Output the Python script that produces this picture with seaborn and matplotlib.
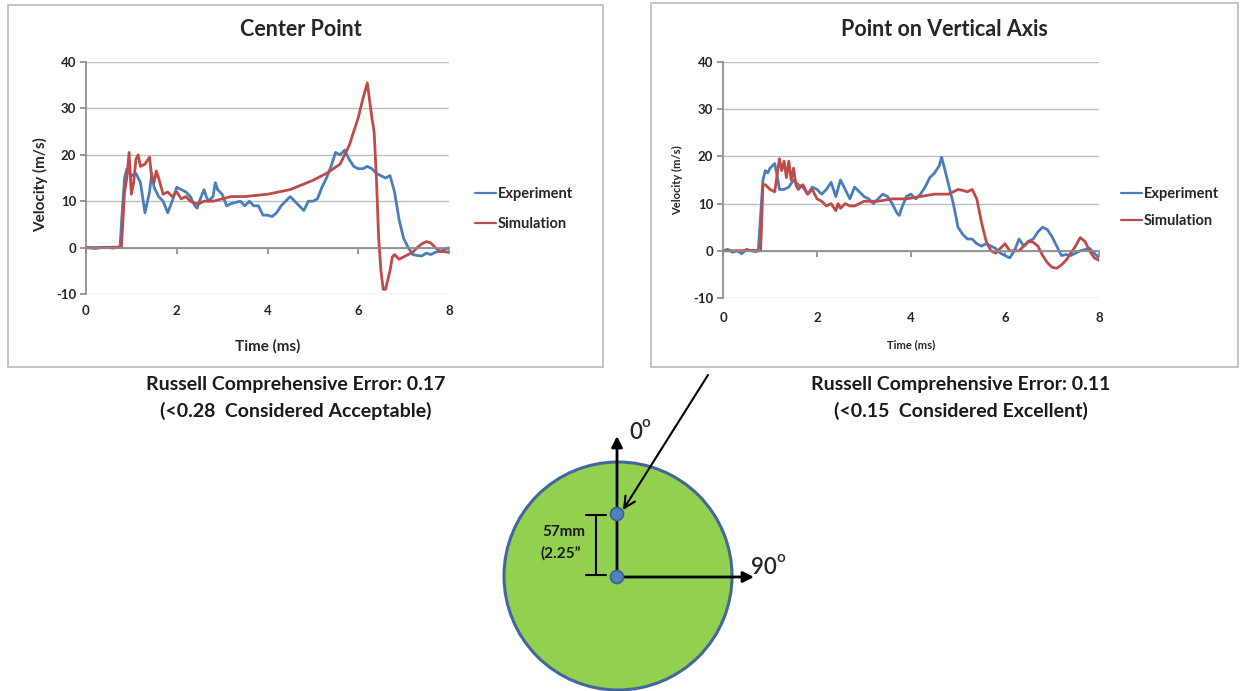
import matplotlib
matplotlib.use("Agg")
import matplotlib.pyplot as plt
from matplotlib.patches import Circle, Rectangle
import seaborn as sns
import pandas as pd

# ---------------- data ----------------
# Center Point - Experiment
cp_exp_t = [0, 0.2, 0.4, 0.6, 0.75, 0.8, 0.85, 0.9, 1.0, 1.1, 1.2, 1.3, 1.4, 1.45, 1.5, 1.6, 1.7, 1.8, 1.9,
            2.0, 2.1, 2.2, 2.3, 2.4, 2.45, 2.5, 2.6, 2.65, 2.7, 2.8, 2.85, 2.9, 3.0, 3.1, 3.2, 3.4, 3.5,
            3.6, 3.7, 3.8, 3.9, 4.0, 4.1, 4.2, 4.3, 4.5, 4.6, 4.8, 4.9, 5.0, 5.1, 5.2, 5.3, 5.4, 5.5,
            5.6, 5.7, 5.8, 5.9, 6.0, 6.1, 6.2, 6.3, 6.4, 6.5, 6.6, 6.7, 6.8, 6.9, 7.0, 7.1, 7.2, 7.3,
            7.4, 7.5, 7.6, 7.7, 7.8, 8.0]
cp_exp_v = [0, -0.2, 0.1, -0.1, 0.2, 8, 15, 17, 15.5, 16, 14, 7.5, 12, 16, 13, 11, 10, 7.5, 10,
            13, 12.5, 12, 11, 9, 8.5, 10, 12.5, 11, 10, 11, 14, 12.5, 11.5, 9, 9.5, 10, 9,
            10, 9, 9, 7, 7, 6.7, 7.5, 9, 11, 10, 8, 10, 10, 10.5, 13, 15, 17.5, 20.5,
            20, 21, 19, 17.5, 17, 17, 17.5, 17, 16, 15.5, 15, 15.5, 12, 6, 2, 0, -1.5, -1.7,
            -1.8, -1.2, -1.5, -1, -0.8, 0]
# Center Point - Simulation
cp_sim_t = [0, 0.3, 0.6, 0.78, 0.85, 0.9, 0.95, 1.0, 1.05, 1.1, 1.15, 1.2, 1.3, 1.4, 1.45, 1.5, 1.55,
            1.6, 1.7, 1.8, 1.9, 2.0, 2.1, 2.2, 2.3, 2.4, 2.5, 2.6, 2.8, 3.0, 3.2, 3.5, 4.0, 4.5,
            5.0, 5.3, 5.6, 5.8, 6.0, 6.1, 6.2, 6.3, 6.35, 6.4, 6.45, 6.5, 6.55, 6.6, 6.7, 6.75,
            6.8, 6.85, 6.9, 7.0, 7.1, 7.2, 7.3, 7.4, 7.5, 7.6, 7.7, 7.8, 8.0]
cp_sim_v = [0, 0, 0.1, 0, 12, 15, 20.5, 11.5, 14, 19, 20, 17.5, 18, 19.5, 15, 14, 16.5,
            15, 11.5, 12, 11, 12, 10.5, 11, 10, 9.5, 9.5, 10, 10, 10.5, 11, 11, 11.5, 12.5,
            14.5, 16, 18, 22, 28, 32, 35.5, 28, 25, 15, 2, -5, -9, -9, -5, -2,
            -1.5, -2, -2.5, -2, -1.5, -1, 0, 0.8, 1.3, 1.0, 0, -0.8, -1]

# Point on Vertical Axis - Experiment
va_exp_t = [0, 0.1, 0.2, 0.3, 0.4, 0.5, 0.6, 0.7, 0.75, 0.85, 0.9, 0.95, 1.0, 1.1, 1.15, 1.2, 1.3,
            1.4, 1.5, 1.6, 1.7, 1.8, 1.9, 2.0, 2.1, 2.2, 2.3, 2.35, 2.4, 2.5, 2.6, 2.7, 2.8, 2.9,
            3.0, 3.1, 3.2, 3.3, 3.4, 3.5, 3.6, 3.7, 3.75, 3.8, 3.9, 4.0, 4.1, 4.2, 4.3, 4.4, 4.5,
            4.6, 4.65, 4.7, 4.8, 4.9, 5.0, 5.1, 5.2, 5.3, 5.4, 5.5, 5.6, 5.7, 5.8, 5.9, 6.0, 6.1,
            6.2, 6.3, 6.4, 6.5, 6.6, 6.7, 6.8, 6.9, 7.0, 7.1, 7.2, 7.3, 7.4, 7.5, 7.6, 7.8, 7.9, 8.0]
va_exp_v = [0, 0.3, -0.3, 0, -0.6, 0.3, 0, -0.2, 0, 15, 17, 16.5, 17.5, 18.5, 16, 13, 13,
            13.5, 15, 14, 13.5, 12, 13.5, 13, 12, 13, 14.5, 13, 11.5, 15, 13, 11, 13.5, 12.5,
            11.5, 11, 10, 11, 12, 11.5, 10, 8, 7.5, 9, 11.5, 12, 11, 12, 13.5, 15.5, 16.5,
            18, 19.8, 18, 14, 10, 5, 3.5, 2.5, 2.5, 1.5, 1, 1.5, 1, 0.5, -0.5, -1, -1.5,
            0, 2.5, 1, 2, 2.5, 4, 5, 4.5, 3, 1, -1, -0.8, -1, -0.5, 0, 0.5, -0.5, -1.5]
# Point on Vertical Axis - Simulation
va_sim_t = [0, 0.3, 0.6, 0.8, 0.85, 0.9, 1.0, 1.1, 1.15, 1.2, 1.25, 1.3, 1.35, 1.4, 1.45, 1.5, 1.55,
            1.6, 1.7, 1.8, 1.9, 2.0, 2.1, 2.2, 2.3, 2.4, 2.45, 2.5, 2.6, 2.7, 2.8, 3.0, 3.3, 3.6,
            3.9, 4.2, 4.5, 4.8, 5.0, 5.1, 5.2, 5.3, 5.4, 5.5, 5.6, 5.7, 5.8, 5.9, 6.0, 6.1, 6.2,
            6.3, 6.4, 6.5, 6.6, 6.7, 6.8, 6.9, 7.0, 7.1, 7.2, 7.3, 7.5, 7.6, 7.7, 7.8, 7.9, 8.0]
va_sim_v = [0, 0, 0.1, 0, 14, 14, 13, 12.5, 16, 19.5, 17, 19, 15.5, 19, 15, 17.5, 14,
            13, 14, 12, 13, 11, 10.5, 9.5, 10, 8.5, 10, 9, 10, 9.5, 9.5, 10.5, 10.5, 11,
            11, 11.5, 12, 12, 13, 12.8, 12.5, 13, 11, 6, 2, 0, -0.5, 0.5, 1.5, 0, 0,
            0, 1, 2, 1.8, 1, -1, -2.5, -3.5, -3.7, -3, -2, 1, 2.8, 2, 0, -1.5, -2]

y_ticks = [-10, 0, 10, 20, 30, 40]
x_ticks = [0, 2, 4, 6, 8]
series_names = ["Experiment", "Simulation"]
titles = ["Center Point", "Point on Vertical Axis"]
notes = [("Russell Comprehensive Error: 0.17", "(<0.28  Considered Acceptable)"),
         ("Russell Comprehensive Error: 0.11", "(<0.15  Considered Excellent)")]

BLUE = "#4A7EBB"
RED = "#BE4B48"
W, H = 1243, 691

sns.set_theme(style="white")
plt.rcParams["font.family"] = ["Lato", "DejaVu Sans"]
plt.rcParams["axes.unicode_minus"] = False

fig = plt.figure(figsize=(W / 100, H / 100), dpi=100)

# background axes in pixel coordinates
bg = fig.add_axes([0, 0, 1, 1], zorder=0)
bg.set_xlim(0, W)
bg.set_ylim(H, 0)
bg.axis("off")

bg.add_patch(Rectangle((8, 5), 595, 362, fill=False, ec="#BFBFBF", lw=1.3))
bg.add_patch(Rectangle((651, 3), 587, 364, fill=False, ec="#BFBFBF", lw=1.3))


def fpos(x0, x1, ytop, ybot):
    return [x0 / W, 1 - ybot / H, (x1 - x0) / W, (ybot - ytop) / H]


def make_chart(rect, exp_t, exp_v, sim_t, sim_v, title, title_xy, lab_size, pad_pts, leg_xy, leg_space):
    ax = fig.add_axes(rect, zorder=2)
    ax.patch.set_alpha(0)
    df = pd.concat([
        pd.DataFrame({"t": exp_t, "v": exp_v, "s": series_names[0]}),
        pd.DataFrame({"t": sim_t, "v": sim_v, "s": series_names[1]}),
    ])
    sns.lineplot(data=df, x="t", y="v", hue="s", palette=[BLUE, RED], ax=ax,
                 linewidth=2.0, sort=False, estimator=None, legend=True)
    ax.set_xlim(0, 8)
    ax.set_ylim(-10, 40)
    ax.set_yticks(y_ticks)
    ax.set_xticks(x_ticks)
    ax.yaxis.grid(True, color="#BFBFBF", lw=1.0)
    ax.xaxis.grid(False)
    for s in ["top", "right"]:
        ax.spines[s].set_visible(False)
    ax.spines["left"].set_color("#8C8C8C")
    ax.spines["bottom"].set_color("#8C8C8C")
    ax.spines["bottom"].set_position(("data", 0))
    ax.tick_params(axis="y", left=True, length=4, color="#8C8C8C", labelsize=9.5, pad=3)
    ax.tick_params(axis="x", bottom=True, length=4, color="#8C8C8C", labelsize=9.5, pad=pad_pts)
    for lab in ax.get_xticklabels() + ax.get_yticklabels():
        lab.set_fontweight("bold")
    ax.set_xlabel("Time (ms)", fontsize=lab_size, fontweight="bold", labelpad=4)
    ax.set_ylabel("Velocity (m/s)", fontsize=lab_size, fontweight="bold", labelpad=6)
    fig.text(title_xy[0] / W, 1 - title_xy[1] / H, title, ha="center", va="center",
             fontsize=15.5, fontweight="bold", zorder=5)
    handles, labels = ax.get_legend_handles_labels()
    for h in handles:
        h.set_linewidth(1.6)
    ax.legend(handles, labels, loc="center left", bbox_to_anchor=leg_xy,
              bbox_transform=fig.transFigure, frameon=False, handlelength=1.45,
              handletextpad=0.1, labelspacing=leg_space, borderaxespad=0, borderpad=0,
              prop={"size": 10.5, "weight": "bold", "family": ["Lato", "DejaVu Sans"]})
    return ax


ax1 = make_chart(fpos(86, 449, 62, 294), cp_exp_t, cp_exp_v, cp_sim_t, cp_sim_v,
                 titles[0], (301, 30), 11, 37, (475 / W, 1 - 209 / H), 1.15)
ax1.yaxis.set_label_coords(-0.105, 0.47)
ax1.xaxis.set_label_coords(0.5, -0.195)

ax2 = make_chart(fpos(723, 1099, 62, 298), va_exp_t, va_exp_v, va_sim_t, va_sim_v,
                 titles[1], (944, 30), 8, 40, (1121 / W, 1 - 207.5 / H), 0.9)
ax2.yaxis.set_label_coords(-0.105, 0.5)
ax2.xaxis.set_label_coords(0.5, -0.175)

# notes under charts
for cx, (l1, l2) in zip([296, 961], notes):
    bg.text(cx, 384, l1, ha="center", va="center", fontsize=14, fontweight="bold", color="#1a1a1a")
    bg.text(cx, 411, l2, ha="center", va="center", fontsize=14, fontweight="bold", color="#1a1a1a")

# ---------------- diagram ----------------
bg.add_patch(Circle((618, 576), 114, fc="#92D050", ec="#41679E", lw=2.2, zorder=2))
bg.annotate("", xy=(617, 436), xytext=(617, 578),
            arrowprops=dict(arrowstyle="-|>", color="black", lw=2, mutation_scale=16,
                            shrinkA=0, shrinkB=0), zorder=3)
bg.annotate("", xy=(754, 577), xytext=(616, 577),
            arrowprops=dict(arrowstyle="-|>", color="black", lw=2, mutation_scale=16,
                            shrinkA=0, shrinkB=0), zorder=3)
for cy in (514, 577):
    bg.add_patch(Circle((617, cy), 6.5, fc="#4F81BD", ec="#3A5F91", lw=1.2, zorder=4))
# bracket
bg.plot([596, 596], [515, 575], color="black", lw=1.5, zorder=3)
bg.plot([586, 606], [515, 515], color="black", lw=1.5, zorder=3)
bg.plot([586, 606], [575, 575], color="black", lw=1.5, zorder=3)
bg.text(542, 532, "57mm", ha="left", va="center", fontsize=11, fontweight="bold", color="#1a1a1a", zorder=5)
bg.text(541, 553, "(2.25\u201d", ha="left", va="center", fontsize=11, fontweight="bold", color="#1a1a1a", zorder=5)
# angle labels
bg.text(629, 432, "0", ha="left", va="center", fontsize=16, fontweight="semibold", zorder=5)
bg.text(641, 423, "o", ha="left", va="center", fontsize=11, fontweight="semibold", zorder=5)
bg.text(751, 567, "90", ha="left", va="center", fontsize=16, fontweight="semibold", zorder=5)
bg.text(776, 558, "o", ha="left", va="center", fontsize=11, fontweight="semibold", zorder=5)
# pointer arrow
bg.annotate("", xy=(623, 510), xytext=(708, 375),
            arrowprops=dict(arrowstyle="->", color="black", lw=1.5, mutation_scale=20,
                            shrinkA=0, shrinkB=0), zorder=5)

fig.savefig("out.png", dpi=100)
